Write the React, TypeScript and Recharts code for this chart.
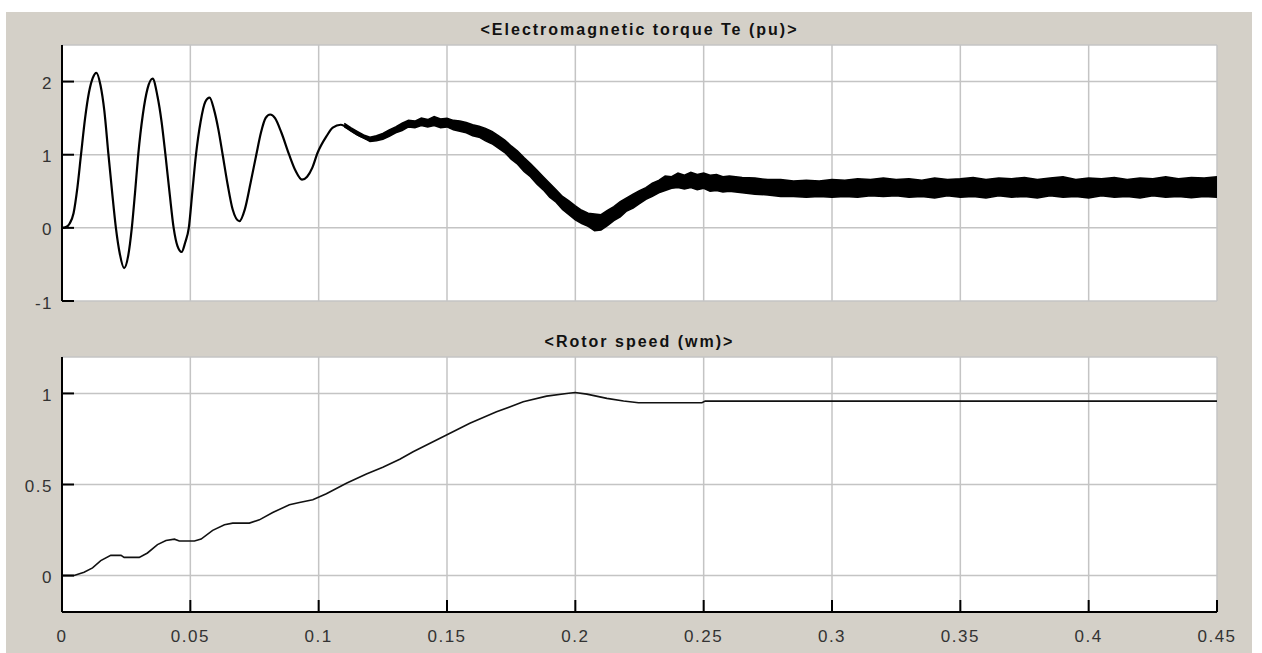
import React from "react";
import { ComposedChart, Line, Area, XAxis, YAxis, CartesianGrid } from "recharts";

// ---------- tick labels ----------
const xTicks = [0, 0.05, 0.1, 0.15, 0.2, 0.25, 0.3, 0.35, 0.4, 0.45];
const teTicks = [-1, 0, 1, 2];
const speedTicks = [0, 0.5, 1];

// ---------- Electromagnetic torque Te (pu): centre trace ----------
const teTime = [
  0, 0.0015, 0.003, 0.0045, 0.006, 0.0074, 0.009, 0.0105, 0.012, 0.0134, 0.015, 0.0165, 0.0181, 0.0195, 0.021,
  0.0225, 0.0242, 0.0258, 0.0272, 0.0285, 0.0297, 0.0315, 0.0333, 0.0353, 0.0372, 0.0388, 0.0403, 0.042, 0.0435,
  0.045, 0.0466, 0.048, 0.0494, 0.0508, 0.0522, 0.054, 0.0558, 0.0575, 0.0592, 0.0609, 0.0626, 0.0645, 0.0665,
  0.0691, 0.0712, 0.0735, 0.0757, 0.0775, 0.0793, 0.0811, 0.083, 0.0855, 0.0885, 0.091, 0.0935, 0.0955, 0.0975,
  0.0995, 0.103, 0.1055, 0.1086, 0.113, 0.1165, 0.1197, 0.123, 0.1262, 0.13, 0.1355, 0.14, 0.1445, 0.15, 0.1525,
  0.156, 0.1604, 0.164, 0.168, 0.172, 0.1759, 0.18, 0.1837, 0.188, 0.1915, 0.195, 0.1993, 0.203, 0.207, 0.211,
  0.2175, 0.222, 0.2279, 0.232, 0.2357, 0.241, 0.246, 0.2538, 0.26, 0.2668, 0.28, 0.29, 0.306, 0.32, 0.35, 0.4, 0.45,
];
const teValue = [
  0, 0.01, 0.06, 0.2, 0.55, 1.0, 1.5, 1.85, 2.05, 2.12, 1.95, 1.6, 1.0, 0.5, 0.0,
  -0.35, -0.55, -0.38, 0.0, 0.5, 1.0, 1.55, 1.9, 2.04, 1.8, 1.45, 1.0, 0.45, 0.0,
  -0.25, -0.33, -0.2, 0.0, 0.5, 1.0, 1.45, 1.72, 1.78, 1.62, 1.35, 1.0, 0.6, 0.25,
  0.09, 0.25, 0.62, 1.0, 1.3, 1.5, 1.55, 1.5, 1.3, 1.0, 0.78, 0.66, 0.7, 0.82,
  1.02, 1.25, 1.37, 1.41, 1.32, 1.25, 1.21, 1.23, 1.27, 1.35, 1.43, 1.45, 1.46, 1.44, 1.41,
  1.38, 1.34, 1.3, 1.23, 1.12, 1.01, 0.86, 0.73, 0.6, 0.45, 0.33, 0.21, 0.13, 0.09, 0.13,
  0.27, 0.36, 0.47, 0.56, 0.62, 0.66, 0.66, 0.63, 0.61, 0.59, 0.55, 0.54, 0.53, 0.55, 0.55, 0.55, 0.555,
];

// ---------- Te ripple envelope (low / high of the noisy band) ----------
const bandTime = [
  0.11, 0.1125, 0.115, 0.1175, 0.12, 0.1225, 0.125, 0.1275, 0.13, 0.1325, 0.135, 0.1375, 0.14, 0.1425, 0.145,
  0.1475, 0.15, 0.1525, 0.155, 0.1575, 0.16, 0.1625, 0.165, 0.1675, 0.17, 0.1725, 0.175, 0.1775, 0.18, 0.1825,
  0.185, 0.1875, 0.19, 0.1925, 0.195, 0.1975, 0.2, 0.2025, 0.205, 0.2075, 0.21, 0.2125, 0.215, 0.2175, 0.22,
  0.2225, 0.225, 0.2275, 0.23, 0.2325, 0.235, 0.2375, 0.24, 0.2425, 0.245, 0.2475, 0.25, 0.2525, 0.255, 0.2575,
  0.26, 0.265, 0.27, 0.275, 0.28, 0.285, 0.29, 0.295, 0.3, 0.305, 0.31, 0.315, 0.32, 0.325, 0.33, 0.335, 0.34,
  0.345, 0.35, 0.355, 0.36, 0.365, 0.37, 0.375, 0.38, 0.385, 0.39, 0.395, 0.4, 0.405, 0.41, 0.415, 0.42, 0.425,
  0.43, 0.435, 0.44, 0.445, 0.45,
];
const bandLow = [
  1.38, 1.33, 1.27, 1.23, 1.18, 1.19, 1.21, 1.25, 1.3, 1.33, 1.38, 1.37, 1.4, 1.38, 1.4,
  1.37, 1.38, 1.34, 1.32, 1.3, 1.26, 1.24, 1.19, 1.15, 1.09, 1.03, 0.94, 0.87, 0.77, 0.7,
  0.6, 0.52, 0.42, 0.35, 0.25, 0.18, 0.11, 0.06, 0.02, -0.04, -0.03, 0.03, 0.1, 0.15, 0.23,
  0.27, 0.33, 0.39, 0.43, 0.48, 0.51, 0.54, 0.55, 0.53, 0.55, 0.52, 0.54, 0.5, 0.51, 0.49,
  0.5, 0.48, 0.46, 0.45, 0.43, 0.43, 0.42, 0.43, 0.42, 0.43, 0.42, 0.44, 0.43, 0.44, 0.42, 0.43, 0.41,
  0.44, 0.42, 0.43, 0.41, 0.44, 0.42, 0.43, 0.41, 0.44, 0.42, 0.43, 0.41, 0.44, 0.42, 0.43, 0.41, 0.44,
  0.42, 0.43, 0.41, 0.43, 0.42,
];
const bandHigh = [
  1.43, 1.37, 1.32, 1.27, 1.24, 1.26, 1.29, 1.34, 1.38, 1.43, 1.47, 1.46, 1.5, 1.48, 1.52,
  1.49, 1.5, 1.47, 1.46, 1.44, 1.41, 1.39, 1.36, 1.32, 1.26, 1.2, 1.12, 1.05, 0.96, 0.88,
  0.79, 0.7, 0.61, 0.52, 0.43, 0.37, 0.3, 0.24, 0.2, 0.19, 0.18, 0.24, 0.29, 0.36, 0.41,
  0.46, 0.51, 0.55, 0.61, 0.65, 0.71, 0.7, 0.75, 0.72, 0.76, 0.73, 0.75, 0.72, 0.73, 0.7,
  0.71, 0.69, 0.68, 0.66, 0.66, 0.64, 0.65, 0.64, 0.66, 0.65, 0.67, 0.66, 0.68, 0.66, 0.67, 0.65, 0.68,
  0.66, 0.67, 0.69, 0.66, 0.68, 0.67, 0.69, 0.66, 0.68, 0.7, 0.66, 0.68, 0.67, 0.69, 0.66, 0.68, 0.67,
  0.7, 0.67, 0.69, 0.68, 0.7,
];

// ---------- Rotor speed (wm) ----------
const speedTime = [
  0, 0.0047, 0.0086, 0.0119, 0.0151, 0.019, 0.023, 0.0242, 0.0301, 0.0333, 0.0372, 0.0405, 0.0438, 0.0457,
  0.0516, 0.0542, 0.0587, 0.0633, 0.0665, 0.073, 0.0769, 0.0821, 0.0886, 0.0925, 0.0977, 0.103, 0.1108,
  0.1186, 0.125, 0.1316, 0.1368, 0.1498, 0.1589, 0.1693, 0.1797, 0.1888, 0.1966, 0.1999, 0.2045, 0.2123,
  0.2188, 0.2246, 0.2493, 0.2506, 0.45,
];
const speedValue = [
  0, 0, 0.018, 0.042, 0.082, 0.111, 0.111, 0.1, 0.1, 0.124, 0.17, 0.193, 0.2, 0.19,
  0.19, 0.2, 0.248, 0.279, 0.288, 0.288, 0.306, 0.346, 0.389, 0.401, 0.416, 0.449, 0.507,
  0.558, 0.595, 0.639, 0.68, 0.772, 0.836, 0.899, 0.954, 0.985, 1.0, 1.005, 0.996, 0.973,
  0.958, 0.949, 0.949, 0.958, 0.958,
];

const teRows = teTime.map((t, i) => ({ t, te: teValue[i] }));
const bandRows = bandTime.map((t, i) => ({ t, range: [bandLow[i], bandHigh[i]] }));
const speedRows = speedTime.map((t, i) => ({ t, wm: speedValue[i] }));

const FONT = "'Liberation Sans', Arial, sans-serif";
const LABEL_FILL = "#333";
const LABEL_SIZE = 17;
const TICK_LEN = 12;
const PLOT_LEFT = 62;
const PLOT_RIGHT = 1217;
const lineStyle = { stroke: "#000", strokeWidth: 2 };

const titleStyle: React.CSSProperties = {
  position: "absolute",
  left: PLOT_LEFT,
  width: PLOT_RIGHT - PLOT_LEFT,
  textAlign: "center",
  fontFamily: FONT,
  fontWeight: "bold",
  fontSize: 16,
  letterSpacing: 2,
  lineHeight: "20px",
  color: "#111",
};

// inward tick + optional label, for each side
const leftTick = (props: any) => {
  const { y, payload } = props;
  return (
    <g>
      <line x1={PLOT_LEFT} x2={PLOT_LEFT + TICK_LEN} y1={y} y2={y} stroke="#000" strokeWidth={2} />
      <text
        x={PLOT_LEFT - 9}
        y={y + 2}
        textAnchor="end"
        dominantBaseline="central"
        fill={LABEL_FILL}
        fontSize={LABEL_SIZE}
        fontFamily={FONT}
        letterSpacing={1.5}
      >
        {String(payload.value)}
      </text>
    </g>
  );
};
const rightTick = (props: any) => {
  const { y } = props;
  return <line x1={PLOT_RIGHT} x2={PLOT_RIGHT - TICK_LEN} y1={y} y2={y} stroke="#000" strokeWidth={2} />;
};
const makeTopTick = (plotTop: number) => (props: any) => {
  const { x } = props;
  return <line x1={x} x2={x} y1={plotTop} y2={plotTop + TICK_LEN} stroke="#000" strokeWidth={2} />;
};
const makeBottomTick = (plotBottom: number, withLabel: boolean) => (props: any) => {
  const { x, payload } = props;
  return (
    <g>
      <line x1={x} x2={x} y1={plotBottom} y2={plotBottom - TICK_LEN} stroke="#000" strokeWidth={2} />
      {withLabel ? (
        <text
          x={x}
          y={plotBottom + 24}
          textAnchor="middle"
          dominantBaseline="central"
          fill={LABEL_FILL}
          fontSize={LABEL_SIZE}
          fontFamily={FONT}
          letterSpacing={1.5}
        >
          {String(payload.value)}
        </text>
      ) : null}
    </g>
  );
};

function Frame(opts: { yDomain: number[]; yTicks: number[]; plotTop: number; plotBottom: number; showX: boolean }) {
  const { yDomain, yTicks, plotTop, plotBottom, showX } = opts;
  return [
    <CartesianGrid key="g" fill="#fff" stroke="#c4c4c4" strokeWidth={1.5} />,
    <XAxis
      key="xb"
      type="number"
      dataKey="t"
      domain={[0, 0.45]}
      ticks={xTicks}
      interval={0}
      allowDataOverflow
      height={showX ? 41 : 0}
      tickLine={false}
      tick={makeBottomTick(plotBottom, showX)}
      axisLine={lineStyle}
    />,
    <XAxis
      key="xt"
      xAxisId="top"
      orientation="top"
      type="number"
      dataKey="t"
      domain={[0, 0.45]}
      ticks={xTicks}
      interval={0}
      allowDataOverflow
      height={0}
      tickLine={false}
      tick={makeTopTick(plotTop)}
      axisLine={lineStyle}
    />,
    <YAxis
      key="yl"
      type="number"
      domain={yDomain}
      ticks={yTicks}
      interval={0}
      allowDataOverflow
      width={PLOT_LEFT}
      tickLine={false}
      tick={leftTick}
      axisLine={lineStyle}
    />,
    <YAxis
      key="yr"
      yAxisId="right"
      orientation="right"
      type="number"
      domain={yDomain}
      ticks={yTicks}
      interval={0}
      allowDataOverflow
      width={0}
      tickLine={false}
      tick={rightTick}
      axisLine={lineStyle}
    />,
  ];
}

export default function App() {
  return (
    <div style={{ position: "absolute", left: 0, top: 0, width: 1262, height: 653, background: "#fff", overflow: "hidden" }}>
      <div style={{ position: "absolute", left: 6, top: 12, width: 1246, height: 641, background: "#d4d0c8" }} />
      <div style={{ ...titleStyle, top: 20 }}>&lt;Electromagnetic torque Te (pu)&gt;</div>
      <div style={{ ...titleStyle, top: 332 }}>&lt;Rotor speed (wm)&gt;</div>

      <div style={{ position: "absolute", left: 0, top: 0 }}>
        <ComposedChart width={1262} height={320} margin={{ top: 45, right: 45, bottom: 19, left: 0 }}>
          {Frame({ yDomain: [-1, 2.5], yTicks: teTicks, plotTop: 45, plotBottom: 301, showX: false })}
          <Area
            data={bandRows}
            dataKey="range"
            type="linear"
            fill="#000"
            fillOpacity={1}
            stroke="#000"
            strokeWidth={1.5}
            isAnimationActive={false}
          />
          <Line
            data={teRows}
            dataKey="te"
            type="monotone"
            stroke="#000"
            strokeWidth={2.2}
            dot={false}
            isAnimationActive={false}
          />
        </ComposedChart>
      </div>

      <div style={{ position: "absolute", left: 0, top: 320 }}>
        <ComposedChart width={1262} height={333} margin={{ top: 37, right: 45, bottom: 0, left: 0 }}>
          {Frame({ yDomain: [-0.2, 1.2], yTicks: speedTicks, plotTop: 37, plotBottom: 292, showX: true })}
          <Line
            data={speedRows}
            dataKey="wm"
            type="linear"
            stroke="#111"
            strokeWidth={1.6}
            dot={false}
            isAnimationActive={false}
          />
        </ComposedChart>
      </div>
    </div>
  );
}
